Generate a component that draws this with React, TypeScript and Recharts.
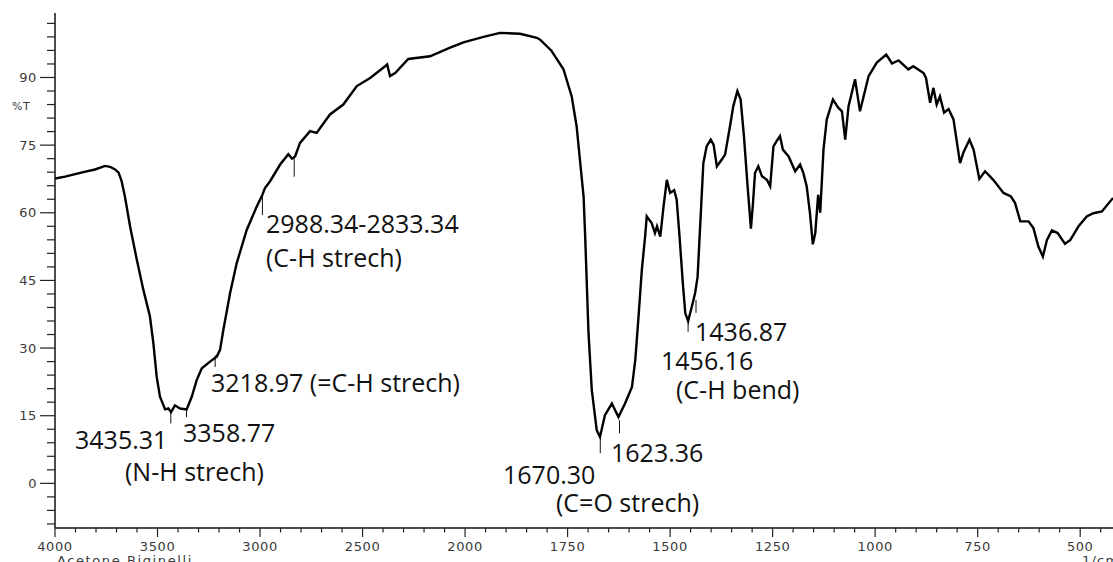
import React from 'react';
import { LineChart, Line, XAxis, YAxis, ReferenceLine, Customized } from 'recharts';

// IR trace: wavenumber (1/cm) and %T
const wavenumbers = [
  4000, 3951, 3862, 3805, 3756, 3732, 3707, 3690, 3675, 3659, 3634, 3601, 3569, 3537, 3520, 3504,
  3488, 3463, 3447, 3434, 3415, 3390, 3358, 3333, 3309, 3284, 3244, 3211, 3195, 3179, 3146, 3114,
  3065, 3016, 2990, 2976, 2951, 2902, 2862, 2844, 2829, 2805, 2756, 2724, 2659, 2594, 2528, 2463,
  2390, 2380, 2366, 2341, 2277, 2171, 2073, 2008, 1955, 1915, 1866, 1825, 1817, 1790, 1760, 1740,
  1728, 1720, 1711, 1707, 1699, 1691, 1679, 1671, 1659, 1642, 1626, 1610, 1593, 1585, 1577, 1569,
  1561, 1557, 1545, 1537, 1532, 1524, 1516, 1508, 1500, 1490, 1484, 1477, 1469, 1463, 1456, 1447,
  1439, 1433, 1429, 1419, 1411, 1401, 1394, 1386, 1374, 1366, 1354, 1346, 1336, 1328, 1320, 1311,
  1303, 1298, 1293, 1285, 1276, 1264, 1256, 1248, 1238, 1232, 1225, 1211, 1195, 1183, 1175, 1167,
  1159, 1152, 1146, 1144, 1139, 1134, 1126, 1118, 1103, 1090, 1081, 1073, 1065, 1049, 1037, 1016,
  996, 973, 959, 943, 919, 907, 882, 876, 866, 858, 850, 842, 832, 821, 809, 793,
  785, 770, 760, 746, 732, 712, 687, 669, 659, 646, 626, 614, 602, 591, 581, 569,
  555, 537, 524, 504, 484, 468, 447, 420,
];
const transmittance = [
  67.6, 68.0, 69.0, 69.6, 70.4, 70.2, 69.6, 68.9, 67.0, 63.6, 57.0, 49.6, 42.9, 37.0, 31.0, 23.6,
  19.2, 16.4, 16.6, 15.8, 17.3, 16.6, 16.4, 19.2, 22.9, 25.5, 27.0, 28.1, 29.6, 34.0, 42.2, 48.8,
  56.2, 61.4, 63.8, 65.5, 67.0, 70.7, 73.0, 72.0, 72.5, 75.5, 78.1, 77.7, 81.8, 84.0, 88.1, 89.9,
  92.5, 92.9, 90.3, 91.0, 94.1, 94.7, 96.6, 97.8, 99.0, 99.9, 99.7, 98.8, 98.4, 96.0, 91.8, 85.8,
  79.2, 71.8, 63.6, 54.4, 33.3, 20.7, 11.8, 10.3, 15.1, 17.7, 14.7, 17.7, 21.4, 27.3, 37.0, 47.3,
  54.7, 59.2, 57.7, 55.5, 57.0, 54.7, 61.4, 67.3, 64.4, 65.0, 62.9, 54.7, 44.4, 37.7, 36.0, 39.2,
  42.2, 45.8, 53.0, 71.0, 74.7, 76.2, 75.1, 70.3, 71.8, 72.9, 79.2, 83.6, 87.0, 85.1, 77.0, 65.8,
  56.5, 62.0, 68.8, 70.3, 68.1, 67.3, 65.9, 74.7, 76.2, 77.0, 74.0, 72.5, 69.2, 70.7, 68.8, 65.9,
  59.9, 53.0, 55.5, 58.0, 64.0, 60.0, 74.0, 80.7, 85.1, 83.3, 82.5, 76.2, 83.6, 89.6, 82.5, 90.3,
  93.3, 95.1, 93.1, 93.8, 91.8, 92.5, 91.0, 89.9, 84.4, 87.7, 84.0, 85.8, 82.2, 83.0, 80.7, 71.0,
  73.3, 76.2, 74.0, 67.5, 69.2, 67.3, 64.4, 63.6, 62.2, 58.1, 58.1, 56.6, 52.5, 50.3, 54.0, 56.1,
  55.5, 53.1, 54.0, 57.0, 59.2, 59.9, 60.3, 63.3,
];

const xTickLabels = [4000, 3500, 3000, 2500, 2000, 1750, 1500, 1250, 1000, 750, 500];
const yTickLabels = [0, 15, 30, 45, 60, 75, 90];

// picked peaks: wavenumber, and the %T span of the little marker line under each
const peakWn = [3435.31, 3358.77, 3218.97, 2988.34, 2833.34, 1670.3, 1623.36, 1456.16, 1436.87];
const peakTop = [16.0, 16.4, 28.4, 63.8, 72.5, 10.0, 14.0, 35.8, 40.7];
const peakBottom = [13.3, 14.7, 25.8, 59.5, 68.0, 6.7, 11.1, 33.6, 37.8];

const annotationText = [
  '2988.34-2833.34', '(C-H strech)', '3218.97 (=C-H strech)', '3435.31', '3358.77',
  '(N-H strech)', '1436.87', '1456.16', '(C-H bend)', '1623.36', '1670.30', '(C=O strech)',
];
const annotationPos = [
  [266, 233], [266, 267], [211, 392], [75, 449], [183, 442],
  [125, 481], [695, 341], [661, 370], [676, 399], [611, 462], [503, 484], [556, 512],
];

// the x scale is split: 4000-2000 at half the scale of 2000-400
const toAxis = (w: number) => (w >= 2000 ? (4000 - w) / 2 : 1000 + (2000 - w));
const fromAxis = (p: number) => (p <= 1000 ? 4000 - 2 * p : 3000 - p);

const spectrum = wavenumbers.map((w, i) => ({ p: toAxis(w), t: transmittance[i] }));

const xTicks: number[] = [];
for (let w = 4000; w >= 2000; w -= 100) xTicks.push(toAxis(w));
for (let w = 1950; w >= 450; w -= 50) xTicks.push(toAxis(w));
const yTicks: number[] = [];
for (let v = -9; v <= 102; v += 3) yTicks.push(v);

const tickFont = { fontFamily: "'DejaVu Sans', sans-serif", fontSize: 13, fill: '#3a3a3a', letterSpacing: 0.6 };

const XTick = (props: any) => {
  const { x, y, payload } = props;
  const wn = Math.round(fromAxis(payload.value));
  const major = xTickLabels.includes(wn);
  return (
    <g>
      <line x1={x} x2={x} y1={y} y2={y + (major ? 9 : 4.5)} stroke="#222" strokeWidth={1.2} />
      {major && (
        <text x={x} y={y + 23} textAnchor="middle" {...tickFont}>
          {wn}
        </text>
      )}
    </g>
  );
};

const YTick = (props: any) => {
  const { x, y, payload } = props;
  const major = yTickLabels.includes(payload.value);
  return (
    <g>
      <line x1={x - (major ? 15 : 8)} x2={x} y1={y} y2={y} stroke="#222" strokeWidth={1.2} />
      {major && (
        <text x={x - 18} y={y + 4.5} textAnchor="end" {...tickFont}>
          {payload.value}
        </text>
      )}
    </g>
  );
};

const Annotations = () => (
  <g>
    <g fontFamily="'Open Sans', sans-serif" fontSize={25} fill="#111">
      {annotationText.map((t, i) => (
        <text key={i} x={annotationPos[i][0]} y={annotationPos[i][1]}>
          {t}
        </text>
      ))}
    </g>
    <text x={12} y={110} {...tickFont} fontSize={11}>%T</text>
    <text x={57} y={565} {...tickFont} letterSpacing={1.6}>Acetone Biginelli</text>
    <text x={1082} y={565} {...tickFont} letterSpacing={1.2}>1/cm</text>
  </g>
);

const App = () => {
  return (
    <div style={{ position: 'absolute', left: 0, top: 0, width: 1113, height: 562, background: '#fff', overflow: 'hidden' }}>
      <LineChart width={1113} height={562} data={spectrum} margin={{ top: 13, right: 0, left: 0, bottom: 0 }}>
        <XAxis
          xAxisId="top"
          orientation="top"
          type="number"
          dataKey="p"
          domain={[0, 2580]}
          height={0}
          tick={false}
          tickLine={false}
          axisLine={{ stroke: '#8a8a8a', strokeWidth: 1.5 }}
        />
        <XAxis
          type="number"
          dataKey="p"
          domain={[0, 2580]}
          allowDataOverflow
          ticks={xTicks}
          interval={0}
          height={34}
          tickSize={0}
          tickMargin={0}
          tickLine={false}
          tick={<XTick />}
          axisLine={{ stroke: '#111', strokeWidth: 1.5 }}
        />
        <YAxis
          type="number"
          domain={[-9.9, 104.3]}
          allowDataOverflow
          ticks={yTicks}
          interval={0}
          width={55}
          tickSize={0}
          tickMargin={0}
          tickLine={false}
          tick={<YTick />}
          axisLine={{ stroke: '#111', strokeWidth: 1.5 }}
        />
        {peakWn.map((w, i) => (
          <ReferenceLine
            key={w}
            segment={[{ x: toAxis(w), y: peakTop[i] }, { x: toAxis(w), y: peakBottom[i] }]}
            stroke="#111"
            strokeWidth={1}
            ifOverflow="visible"
          />
        ))}
        <Line
          type="linear"
          dataKey="t"
          stroke="#000"
          strokeWidth={2.4}
          dot={false}
          isAnimationActive={false}
        />
        <Customized component={<Annotations />} />
      </LineChart>
    </div>
  );
};

export default App;
